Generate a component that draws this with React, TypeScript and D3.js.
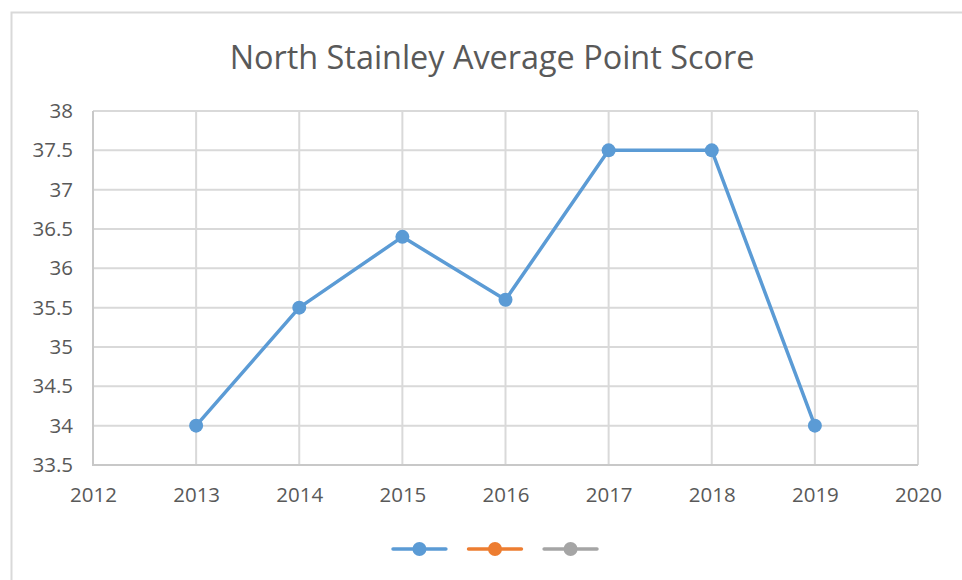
import React, { useRef, useEffect } from "react"
import * as d3 from "d3"

const years = [2013, 2014, 2015, 2016, 2017, 2018, 2019]
const scores = [34, 35.5, 36.4, 35.6, 37.5, 37.5, 34]
const seriesNames = ["Series1", "Series2", "Series3"]
const seriesColors = ["#5B9BD5", "#ED7D31", "#A5A5A5"]
const yTicks = [33.5, 34, 34.5, 35, 35.5, 36, 36.5, 37, 37.5, 38]
const xTicks = [2012, 2013, 2014, 2015, 2016, 2017, 2018, 2019, 2020]
const title = "North Stainley Average Point Score"

const W = 962
const H = 580
const font = "'Open Sans', 'Noto Sans', sans-serif"

function App() {
  const ref = useRef<SVGSVGElement>(null)

  useEffect(() => {
    const svg = d3.select(ref.current)
    svg.selectAll("*").remove()

    const margin = { left: 93, right: W - 918, top: 111, bottom: H - 465 }

    const x = d3
      .scaleLinear()
      .domain([2012, 2020])
      .range([margin.left, W - margin.right])
    const y = d3
      .scaleLinear()
      .domain([33.5, 38])
      .range([H - margin.bottom, margin.top])

    svg.append("rect").attr("width", W).attr("height", H).attr("fill", "#fff")

    // outer chart frame (cut off right and bottom)
    svg
      .append("path")
      .attr("d", `M11.5,${H} V12.5 H${W}`)
      .attr("fill", "none")
      .attr("stroke", "#d9d9d9")
      .attr("stroke-width", 2)

    svg
      .append("text")
      .attr("x", 492)
      .attr("y", 69)
      .attr("text-anchor", "middle")
      .attr("font-family", font)
      .attr("font-size", 32.4)
      .attr("fill", "#595959")
      .text(title)

    const grid = svg.append("g").attr("stroke", "#d9d9d9").attr("stroke-width", 2)
    grid
      .selectAll("line.h")
      .data(yTicks)
      .join("line")
      .attr("class", "h")
      .attr("x1", x(2012))
      .attr("x2", x(2020))
      .attr("y1", d => y(d))
      .attr("y2", d => y(d))
    grid
      .selectAll("line.v")
      .data(xTicks)
      .join("line")
      .attr("class", "v")
      .attr("x1", d => x(d))
      .attr("x2", d => x(d))
      .attr("y1", y(38))
      .attr("y2", y(33.5))
    // axis lines a little darker
    svg
      .append("path")
      .attr("d", `M${x(2012)},${y(38)} V${y(33.5)} H${x(2020)}`)
      .attr("fill", "none")
      .attr("stroke", "#c8c8c8")
      .attr("stroke-width", 2)

    const yAxis = svg
      .append("g")
      .attr("transform", `translate(${x(2012)},0)`)
      .call(
        d3
          .axisLeft(y)
          .tickValues(yTicks)
          .tickSize(0)
          .tickPadding(20)
          .tickFormat(d => String(d))
      )
    yAxis.select(".domain").remove()
    yAxis
      .selectAll("text")
      .attr("font-family", font)
      .attr("font-size", 20.5)
      .attr("fill", "#595959")

    const xAxis = svg
      .append("g")
      .attr("transform", `translate(0,${y(33.5)})`)
      .call(
        d3
          .axisBottom(x)
          .tickValues(xTicks)
          .tickSize(0)
          .tickPadding(22)
          .tickFormat(d => String(d))
      )
    xAxis.select(".domain").remove()
    xAxis
      .selectAll("text")
      .attr("font-family", font)
      .attr("font-size", 20.5)
      .attr("fill", "#595959")

    const data = years.map((yr, i) => ({ yr, v: scores[i] }))
    const line = d3
      .line<{ yr: number; v: number }>()
      .x(d => x(d.yr))
      .y(d => y(d.v))

    svg
      .append("path")
      .datum(data)
      .attr("d", line)
      .attr("fill", "none")
      .attr("stroke", seriesColors[0])
      .attr("stroke-width", 3.5)
      .attr("stroke-linejoin", "round")

    svg
      .selectAll("circle.pt")
      .data(data)
      .join("circle")
      .attr("class", "pt")
      .attr("cx", d => x(d.yr))
      .attr("cy", d => y(d.v))
      .attr("r", 7)
      .attr("fill", seriesColors[0])

    // legend
    const lx = d3
      .scaleBand()
      .domain(seriesNames)
      .range([393, 597])
      .paddingInner(0.3)
    const legend = svg
      .append("g")
      .selectAll("g")
      .data(seriesNames)
      .join("g")
      .attr("transform", d => `translate(${lx(d)},549)`)
    legend
      .append("line")
      .attr("x1", 0)
      .attr("x2", lx.bandwidth())
      .attr("stroke", (d, i) => seriesColors[i])
      .attr("stroke-width", 3.5)
      .attr("stroke-linecap", "round")
    legend
      .append("circle")
      .attr("cx", lx.bandwidth() / 2)
      .attr("r", 7)
      .attr("fill", (d, i) => seriesColors[i])
  }, [])

  return (
    <div style={{ position: "fixed", left: 0, top: 0 }}>
      <svg ref={ref} width={W} height={H} style={{ display: "block" }}></svg>
    </div>
  )
}

export default App
